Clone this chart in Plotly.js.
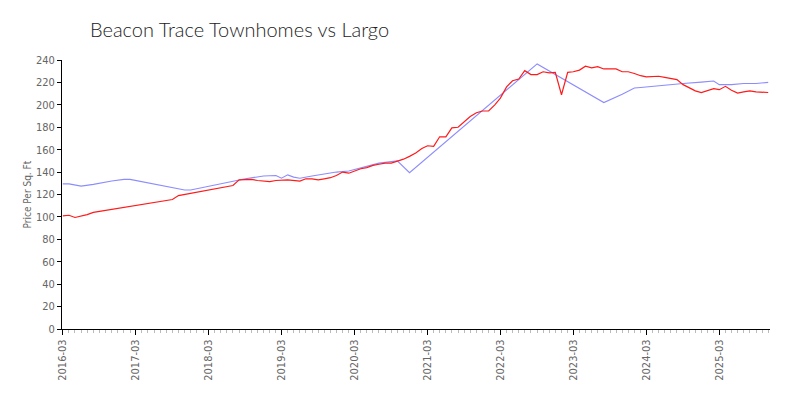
<!DOCTYPE html>
<html>
<head>
<meta charset="utf-8">
<script src="https://cdn.plot.ly/plotly-3.0.1.min.js"></script>
<style>html,body{margin:0;padding:0;background:#fff}#chart{width:800px;height:400px}</style>
</head>
<body>
<div id="chart"></div>
<script>
// Red series (monthly-ish readings)
var redDates = ["2016-03","2016-04","2016-05","2016-06","2016-07","2016-08","2017-08","2017-09","2017-10","2018-07","2018-08","2018-09","2018-10","2018-11","2019-01","2019-02","2019-03","2019-04","2019-06","2019-07","2019-08","2019-09","2019-10","2019-11","2019-12","2020-01","2020-02","2020-03","2020-04","2020-05","2020-06","2020-07","2020-08","2020-09","2020-10","2020-11","2020-12","2021-01","2021-02","2021-03","2021-04","2021-05","2021-06","2021-07","2021-08","2021-09","2021-10","2021-11","2021-12","2022-01","2022-02","2022-03","2022-04","2022-05","2022-06","2022-07","2022-08","2022-09","2022-10","2022-11","2022-12","2023-01","2023-02","2023-03","2023-04","2023-05","2023-06","2023-07","2023-08","2023-09","2023-10","2023-11","2023-12","2024-01","2024-02","2024-03","2024-04","2024-05","2024-06","2024-07","2024-08","2024-09","2024-10","2024-11","2024-12","2025-01","2025-02","2025-03","2025-04","2025-05","2025-06","2025-07","2025-08","2025-09","2025-10","2025-11"];
var redValues = [101,101.5,99.5,100.5,102,104,115,115.5,119,128,133,133,133.5,132.5,131.5,132.5,133,133,132,134,134,133,134,135,137,140,139,141,143,144,146,147,148,148,149.5,151.5,154,157,161,163.5,163,171.5,171.5,179.5,180,185,189.5,193,194.5,194.5,200,206,216,221.5,223,230.5,227,227,229.5,228.5,229,209,229,229.5,231,234.5,233,234,232,232,232,229.5,229.5,228,226,225,225,225.5,224.5,223.5,222.5,218,215,212.5,211,213,214.5,213.5,216.5,213,210.5,211.5,212.5,211.5,211.5,211];

// Blue series (readings at visible vertices)
var blueDates = ["2016-03","2016-04","2016-06","2016-08","2016-11","2017-01","2017-02","2017-11","2017-12","2018-07","2018-09","2018-12","2019-02","2019-03","2019-04","2019-05","2019-06","2019-08","2019-11","2019-12","2020-02","2020-05","2020-07","2020-10","2020-12","2022-09","2023-08","2023-11","2024-01","2024-02","2024-05","2024-07","2024-09","2024-12","2025-02","2025-03","2025-05","2025-07","2025-09","2025-11"];
var blueValues = [129.5,129.5,127.5,129,132,133.5,133.5,124,124,131.5,134,136.5,137,134.5,137.5,135.5,134.5,136.5,139.5,140,141,145,148,150,139.5,236.5,202,209.5,215,215.5,217,218.5,219,220.3,221.3,218,218,219,219,220];

var yTicks = [0,20,40,60,80,100,120,140,160,180,200,220,240];

var narrow = "'Liberation Sans Narrow', 'DejaVu Sans Condensed', sans-serif";
var tickFont = {family: narrow, size: 11, color: "#666"};

var traces = [
  {x: blueDates, y: blueValues, type: "scatter", mode: "lines",
   line: {color: "#8c8cff", width: 1.1}, hoverinfo: "x+y"},
  {x: redDates, y: redValues, type: "scatter", mode: "lines",
   line: {color: "#ff1a1a", width: 1.2}, hoverinfo: "x+y"}
];

var layout = {
  width: 800, height: 400,
  margin: {l: 62, r: 30, t: 60, b: 71},
  paper_bgcolor: "#fff", plot_bgcolor: "#fff",
  showlegend: false,
  title: {text: "Beacon Trace Townhomes vs Largo", x: 0.1125, xanchor: "left", y: 0.925, yanchor: "middle",
          font: {family: "Lato, 'Open Sans', sans-serif", size: 20, color: "#222", weight: 300}},
  xaxis: {
    type: "date",
    range: ["2016-02-26", "2025-11-10"],
    tick0: "2016-03-01", dtick: "M12", tickformat: "%Y-%m",
    tickangle: -90,
    ticks: "outside", ticklen: 5, tickcolor: "#000", tickwidth: 1,
    showline: true, linecolor: "#000", linewidth: 1,
    showgrid: false, zeroline: false,
    tickfont: tickFont,
    minor: {dtick: "M1", tick0: "2016-03-01", ticks: "outside", ticklen: 3, tickcolor: "#bbb", showgrid: false}
  },
  yaxis: {
    range: [0, 240],
    tickvals: yTicks,
    ticks: "outside", ticklen: 4, tickcolor: "#000", tickwidth: 1,
    showline: true, linecolor: "#000", linewidth: 1,
    showgrid: false, zeroline: false,
    tickfont: tickFont
  },
  annotations: [{
    text: "Price Per Sq. Ft", textangle: -90, showarrow: false,
    xref: "paper", yref: "paper", x: -35 / 708, y: 0.5, xanchor: "center", yanchor: "middle",
    font: {family: narrow, size: 10, color: "#666"}
  }]
};

Plotly.newPlot("chart", traces, layout, {displayModeBar: false, staticPlot: true});
</script>
</body>
</html>
